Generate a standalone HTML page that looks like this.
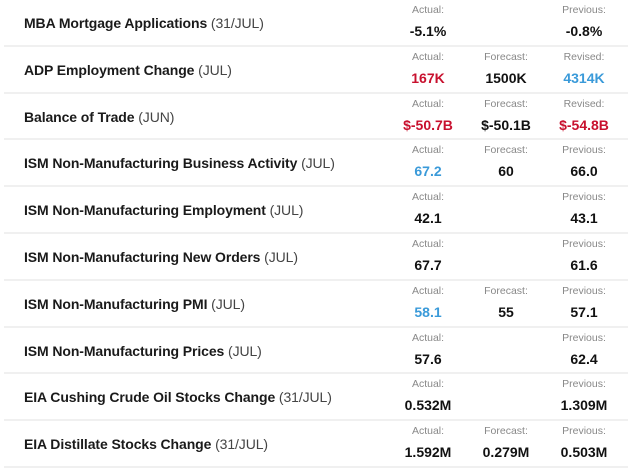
<!DOCTYPE html>
<html><head><style>
body{margin:0;width:640px;height:468px;background:#fff;font-family:"Liberation Sans",Arial,sans-serif;overflow:hidden;position:relative}
.r{position:absolute;left:0;width:640px;height:46.8px}
.r:after{content:"";position:absolute;left:4px;right:12px;bottom:0;height:2px;background:#f0f0f0}
.n{position:absolute;left:24px;top:15px;font-size:14px;font-weight:bold;color:#1a1a1a;letter-spacing:-0.1px}
.n span{font-weight:normal;color:#444}
.c{position:absolute;width:80px;text-align:center;top:4px}
.c .l{font-size:10.5px;color:#888;height:14px}
.c .v{font-size:14px;font-weight:bold;color:#111;margin-top:5px}
.a{left:388px}.f{left:466px}.p{left:544px}
.red{color:#c8102e!important}.blue{color:#3a9ad9!important}
</style></head><body>
<div class="r" style="top:0"><div class="n">MBA Mortgage Applications <span>(31/JUL)</span></div><div class="c a"><div class="l">Actual:</div><div class="v">-5.1%</div></div><div class="c p"><div class="l">Previous:</div><div class="v">-0.8%</div></div></div>
<div class="r" style="top:46.8px"><div class="n">ADP Employment Change <span>(JUL)</span></div><div class="c a"><div class="l">Actual:</div><div class="v red">167K</div></div><div class="c f"><div class="l">Forecast:</div><div class="v">1500K</div></div><div class="c p"><div class="l">Revised:</div><div class="v blue">4314K</div></div></div>
<div class="r" style="top:93.6px"><div class="n">Balance of Trade <span>(JUN)</span></div><div class="c a"><div class="l">Actual:</div><div class="v red">$-50.7B</div></div><div class="c f"><div class="l">Forecast:</div><div class="v">$-50.1B</div></div><div class="c p"><div class="l">Revised:</div><div class="v red">$-54.8B</div></div></div>
<div class="r" style="top:140.4px"><div class="n">ISM Non-Manufacturing Business Activity <span>(JUL)</span></div><div class="c a"><div class="l">Actual:</div><div class="v blue">67.2</div></div><div class="c f"><div class="l">Forecast:</div><div class="v">60</div></div><div class="c p"><div class="l">Previous:</div><div class="v">66.0</div></div></div>
<div class="r" style="top:187.2px"><div class="n">ISM Non-Manufacturing Employment <span>(JUL)</span></div><div class="c a"><div class="l">Actual:</div><div class="v">42.1</div></div><div class="c p"><div class="l">Previous:</div><div class="v">43.1</div></div></div>
<div class="r" style="top:234px"><div class="n">ISM Non-Manufacturing New Orders <span>(JUL)</span></div><div class="c a"><div class="l">Actual:</div><div class="v">67.7</div></div><div class="c p"><div class="l">Previous:</div><div class="v">61.6</div></div></div>
<div class="r" style="top:280.8px"><div class="n">ISM Non-Manufacturing PMI <span>(JUL)</span></div><div class="c a"><div class="l">Actual:</div><div class="v blue">58.1</div></div><div class="c f"><div class="l">Forecast:</div><div class="v">55</div></div><div class="c p"><div class="l">Previous:</div><div class="v">57.1</div></div></div>
<div class="r" style="top:327.6px"><div class="n">ISM Non-Manufacturing Prices <span>(JUL)</span></div><div class="c a"><div class="l">Actual:</div><div class="v">57.6</div></div><div class="c p"><div class="l">Previous:</div><div class="v">62.4</div></div></div>
<div class="r" style="top:374.4px"><div class="n">EIA Cushing Crude Oil Stocks Change <span>(31/JUL)</span></div><div class="c a"><div class="l">Actual:</div><div class="v">0.532M</div></div><div class="c p"><div class="l">Previous:</div><div class="v">1.309M</div></div></div>
<div class="r" style="top:421.2px"><div class="n">EIA Distillate Stocks Change <span>(31/JUL)</span></div><div class="c a"><div class="l">Actual:</div><div class="v">1.592M</div></div><div class="c f"><div class="l">Forecast:</div><div class="v">0.279M</div></div><div class="c p"><div class="l">Previous:</div><div class="v">0.503M</div></div></div>
</body></html>
